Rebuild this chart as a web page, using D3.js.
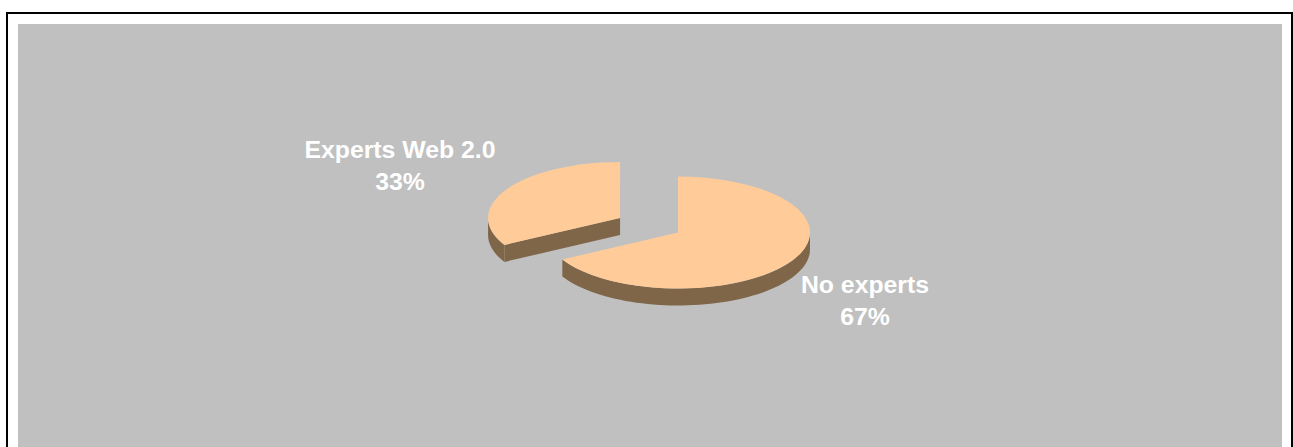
<!DOCTYPE html>
<html>
<head>
<meta charset="utf-8">
<script src="https://cdn.jsdelivr.net/npm/d3@7"></script>
<style>
  html, body { margin: 0; padding: 0; background: #ffffff; }
  svg { display: block; }
</style>
</head>
<body>
<svg id="chart" width="1293" height="447"></svg>
<script>
// Share of respondents
const categories = ["Experts Web 2.0", "No experts"];
const values = [33, 67];
const percentLabels = ["33%", "67%"];

const W = 1293, H = 447;
const svg = d3.select("#chart");

// Outer frame and grey plot area
svg.append("rect").attr("x", 7).attr("y", 13).attr("width", 1285).attr("height", 460)
  .attr("fill", "#ffffff").attr("stroke", "#000000").attr("stroke-width", 2);
svg.append("rect").attr("x", 18).attr("y", 24).attr("width", 1264).attr("height", 440)
  .attr("fill", "#C0C0C0");

// 3-D pie geometry
const cx = 678, cy = 232.5;     // centre of the undisplaced pie
const rx = 132, ry = 56;        // ellipse radii of the top face
const depth = 17;               // thickness of the pie
const explode = 0.51;           // radial offset of the pulled-out slice (fraction of radius)
const topColor = "#FFCC99", sideColor = "#806649";

// Experts slice ends at 12 o'clock, No experts starts there going clockwise
const pie = d3.pie().sort(null).value(d => d)
  .startAngle(-values[0] / 100 * 2 * Math.PI)
  .endAngle(2 * Math.PI - values[0] / 100 * 2 * Math.PI);
const arcs = pie(values);

// point on the top ellipse at a d3 angle (0 = 12 o'clock, clockwise)
function pt(ox, oy, a, dz = 0) {
  return [ox + rx * Math.sin(a), oy - ry * Math.cos(a) + dz];
}

const arcGen = d3.arc().innerRadius(0).outerRadius(rx);

function drawSlice(d, i) {
  const mid = (d.startAngle + d.endAngle) / 2;
  const off = i === 0 ? explode : 0;
  const ox = cx + rx * off * Math.sin(mid);
  const oy = cy - ry * off * Math.cos(mid);
  const g = svg.append("g").attr("class", "slice");

  // outer wall: the part of the rim facing the viewer (between 3 and 9 o'clock)
  const ranges = [];
  const a0 = Math.max(d.startAngle, Math.PI / 2), a1 = Math.min(d.endAngle, 3 * Math.PI / 2);
  if (a1 > a0) ranges.push([a0, a1]);
  const b0 = Math.max(d.startAngle, -3 * Math.PI / 2), b1 = Math.min(d.endAngle, -Math.PI / 2);
  if (b1 > b0) ranges.push([b0, b1]);
  ranges.forEach(([s, e]) => {
    const n = 60;
    const topPts = d3.range(n + 1).map(k => pt(ox, oy, s + (e - s) * k / n));
    const botPts = topPts.slice().reverse().map(p => [p[0], p[1] + depth]);
    g.append("path")
      .attr("d", d3.line()(topPts.concat(botPts)) + "Z")
      .attr("fill", sideColor);
  });

  // radial cut faces that face the viewer
  [d.startAngle, d.endAngle].forEach((a, j) => {
    const na = j === 0 ? a - Math.PI / 2 : a + Math.PI / 2;   // outward normal
    if (-Math.cos(na) > 0.01) {
      const p = pt(ox, oy, a);
      const quad = [[ox, oy], p, [p[0], p[1] + depth], [ox, oy + depth]];
      g.append("path").attr("d", d3.line()(quad) + "Z").attr("fill", sideColor);
    }
  });

  // top face: a circular arc squashed into the ellipse
  g.append("path")
    .attr("transform", `translate(${ox},${oy}) scale(1,${ry / rx})`)
    .attr("d", arcGen(d))
    .attr("fill", topColor);
}

arcs.forEach(drawSlice);

// Data labels
const labelPos = [[400, 157.5], [865, 292.7]];
const lineGap = 32.5;
arcs.forEach((d, i) => {
  const t = svg.append("text")
    .attr("x", labelPos[i][0]).attr("y", labelPos[i][1])
    .attr("text-anchor", "middle")
    .attr("font-family", "Liberation Sans, Arial, sans-serif")
    .attr("font-weight", "bold")
    .attr("font-size", 24.8)
    .attr("fill", "#ffffff");
  t.append("tspan").attr("x", labelPos[i][0]).text(categories[i]);
  t.append("tspan").attr("x", labelPos[i][0]).attr("dy", lineGap).text(percentLabels[i]);
});
</script>
</body>
</html>
